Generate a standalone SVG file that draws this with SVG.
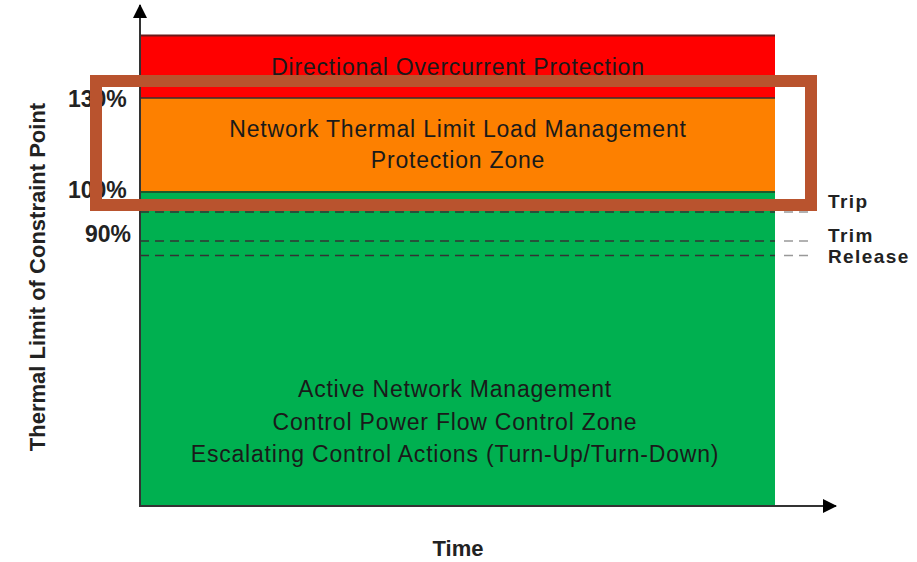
<svg xmlns="http://www.w3.org/2000/svg" width="917" height="562" viewBox="0 0 917 562">
<style>
.band{font-family:"Liberation Sans",Arial,sans-serif;font-size:23px;letter-spacing:0.8px;fill:#1a1a1a;text-anchor:middle}
.lbl{font-family:"Liberation Sans",Arial,sans-serif;font-size:22px;font-weight:bold;fill:#222}
.thr{font-family:"Liberation Sans",Arial,sans-serif;font-size:19px;letter-spacing:1.4px;font-weight:bold;fill:#222}
.pct{font-family:"Liberation Sans",Arial,sans-serif;font-size:23px;font-weight:bold;fill:#222}
.dash{stroke:#333;stroke-width:1.5;stroke-dasharray:9,6;fill:none}
.dashg{stroke:#999;stroke-width:1.5;stroke-dasharray:9,6;fill:none}
</style>
<defs>
<marker id="arr" markerWidth="14" markerHeight="14" refX="13" refY="7" orient="auto" markerUnits="userSpaceOnUse" viewBox="0 0 14 14">
<path d="M0,0 L14,7 L0,14 Z" fill="#000"/>
</marker>
</defs>
<rect width="917" height="562" fill="#fff"/>
<g id="zone-red">
<rect x="140" y="35" width="635" height="63" fill="#FF0000"/>
<line x1="140" y1="35.5" x2="775" y2="35.5" stroke="#6b1a1a" stroke-width="2"/>
<text class="band" x="458" y="75">Directional Overcurrent Protection</text>
</g>
<g id="zone-orange">
<rect x="140" y="98" width="635" height="94" fill="#FD8000"/>
<line x1="140" y1="98" x2="775" y2="98" stroke="#333" stroke-width="1.5"/>
<text class="band" x="458" y="137">Network Thermal Limit Load Management</text>
<text class="band" x="458" y="168">Protection Zone</text>
</g>
<g id="zone-green">
<rect x="140" y="192" width="635" height="313" fill="#00B050"/>
<line x1="140" y1="192" x2="775" y2="192" stroke="#1d5a2d" stroke-width="2"/>
<text class="band" x="455" y="397">Active Network Management</text>
<text class="band" x="455" y="430">Control Power Flow Control Zone</text>
<text class="band" x="455" y="462">Escalating Control Actions (Turn-Up/Turn-Down)</text>
</g>
<g id="thresholds">
<line class="dash" x1="140" y1="212" x2="775" y2="212"/>
<line class="dash" x1="140" y1="241" x2="775" y2="241"/>
<line class="dash" x1="140" y1="255.5" x2="775" y2="255.5"/>
<line class="dashg" x1="784" y1="212" x2="810" y2="212"/>
<line class="dashg" x1="784" y1="241" x2="810" y2="241"/>
<line class="dashg" x1="784" y1="255.5" x2="810" y2="255.5"/>
<text class="thr" x="828" y="208">Trip</text>
<text class="thr" x="828" y="242">Trim</text>
<text class="thr" x="828" y="263">Release</text>
<text class="pct" x="68" y="107">130%</text>
<text class="pct" x="68" y="198">100%</text>
<text class="pct" x="85" y="242">90%</text>
</g>
<g id="axes">
<line x1="140" y1="506" x2="140" y2="5" stroke="#333" stroke-width="2" marker-end="url(#arr)"/>
<line x1="139" y1="506" x2="836" y2="506" stroke="#333" stroke-width="2" marker-end="url(#arr)"/>
<text class="lbl" x="458" y="556" text-anchor="middle">Time</text>
<text class="lbl" x="0" y="0" text-anchor="middle" font-size="23" transform="translate(45,277) rotate(-90)">Thermal Limit of Constraint Point</text>
</g>
<g id="highlight">
<rect x="96" y="81" width="715" height="124" fill="none" stroke="#B9532E" stroke-width="12"/>
</g>
</svg>
